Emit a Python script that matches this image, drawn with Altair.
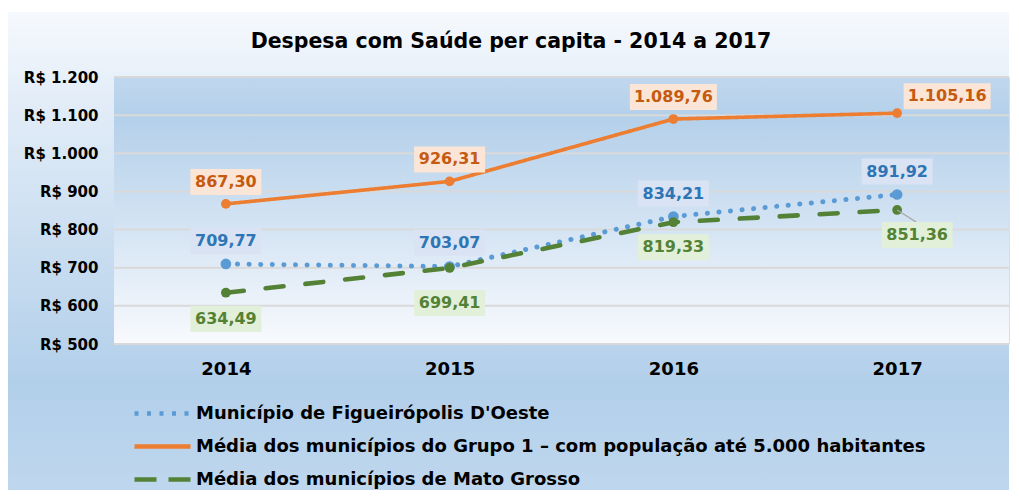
import altair as alt
import pandas as pd

years = [2014, 2015, 2016, 2017]
series_names = [
    "Município de Figueirópolis D'Oeste",
    "Média dos municípios do Grupo 1 – com população até 5.000 habitantes",
    "Média dos municípios de Mato Grosso",
]
figueiropolis = [709.77, 703.07, 834.21, 891.92]
grupo1 = [867.30, 926.31, 1089.76, 1105.16]
mato_grosso = [634.49, 699.41, 819.33, 851.36]
y_ticks = [500, 600, 700, 800, 900, 1000, 1100, 1200]
title_text = "Despesa com Saúde per capita - 2014 a 2017"

line_colors = ["#5b9bd5", "#ed7d31", "#538135"]
text_colors = ["#2e75b6", "#c55a11", "#548235"]
box_colors = ["#dae3f3", "#fbe5d6", "#e2f0d9"]
dashes = [[0.1, 11.5], [1, 0], [18, 22]]
legend_dashes = [[4, 8.5], [1, 0], [22, 12]]
line_widths = [5, 3.6, 4.6]
point_sizes = [115, 95, 95]
FONT = "DejaVu Sans"


def br(v):
    s = f"{v:,.2f}"
    return s.replace(",", "X").replace(".", ",").replace("X", ".")


rows = []
for name, vals in zip(series_names, [figueiropolis, grupo1, mato_grosso]):
    for yr, v in zip(years, vals):
        rows.append({"year": yr, "series": name, "value": v, "label": br(v)})
df = pd.DataFrame(rows)

# label placement offsets (px) per (series index, year)
placement = {
    (0, 2014): (0, -23), (0, 2015): (0, -24), (0, 2016): (0, -23), (0, 2017): (0, -23),
    (1, 2014): (0, -22), (1, 2015): (0, -22), (1, 2016): (0, -22), (1, 2017): (50, -17),
    (2, 2014): (0, 26), (2, 2015): (0, 35), (2, 2016): (0, 25), (2, 2017): (20, 25),
}

x_enc = alt.X(
    "year:Q",
    scale=alt.Scale(domain=[2013.5, 2017.5], nice=False, zero=False),
    axis=alt.Axis(values=years, format="d", title=None, ticks=False, domain=False,
                  grid=False, labelFont=FONT, labelFontSize=18, labelFontWeight="bold",
                  labelColor="black", labelPadding=16, zindex=1),
)
y_enc = alt.Y(
    "value:Q",
    scale=alt.Scale(domain=[500, 1200], nice=False, zero=False),
    axis=alt.Axis(values=y_ticks, title=None, ticks=False, domain=False, grid=False,
                  labelExpr="'R$ ' + replace(format(datum.value, ','), ',', '.')",
                  labelFont=FONT, labelFontSize=15, labelFontWeight="bold",
                  labelColor="black", labelPadding=16, zindex=1),
)

one = pd.DataFrame({"k": [0]})

outer_grad = alt.LinearGradient(
    gradient="linear", x1=0, x2=0, y1=0, y2=1,
    stops=[
        alt.GradientStop(color="#f6f9fd", offset=0),
        alt.GradientStop(color="#e3edf8", offset=0.18),
        alt.GradientStop(color="#c9ddf0", offset=0.5),
        alt.GradientStop(color="#b2cfea", offset=0.78),
        alt.GradientStop(color="#bfd7ee", offset=1),
    ],
)
plot_grad = alt.LinearGradient(
    gradient="linear", x1=0, x2=0, y1=0, y2=1,
    stops=[
        alt.GradientStop(color="#c0d7ee", offset=0),
        alt.GradientStop(color="#b4d0ea", offset=0.15),
        alt.GradientStop(color="#d3e3f3", offset=0.55),
        alt.GradientStop(color="#e8f0f9", offset=0.8),
        alt.GradientStop(color="#f8fafd", offset=1),
    ],
)

outer_bg = alt.Chart(one).mark_rect(fill=outer_grad).encode(
    x=alt.value(-106), x2=alt.value(895), y=alt.value(-65), y2=alt.value(413)
)
plot_bg = alt.Chart(one).mark_rect(fill=plot_grad).encode(
    x=alt.value(0), x2=alt.value("width"), y=alt.value(0), y2=alt.value("height")
)
grid = alt.Chart(pd.DataFrame({"value": y_ticks})).mark_rule(color="#d9d9d9", strokeWidth=2).encode(
    y=y_enc, x=alt.value(0), x2=alt.value("width")
)
title_mark = alt.Chart(one).mark_text(
    text=title_text, font=FONT, fontSize=20.5, fontWeight="bold", color="black",
    align="center", baseline="alphabetic",
).encode(x=alt.value(397), y=alt.value(-29))

# empty layer that only carries the legend (entries come from the scale domain)
legend_layer = alt.Chart(df).transform_filter("false").mark_line(strokeWidth=4.5).encode(
    x=x_enc, y=y_enc,
    color=alt.Color("series:N", scale=alt.Scale(domain=series_names, range=line_colors), title=None),
    strokeDash=alt.StrokeDash("series:N", scale=alt.Scale(domain=series_names, range=legend_dashes), title=None),
)

layers = [outer_bg, plot_bg, grid, title_mark, legend_layer]
for i, name in enumerate(series_names):
    sub = df[df.series == name]
    layers.append(
        alt.Chart(sub).mark_line(strokeWidth=line_widths[i], strokeCap="round",
                                 color=line_colors[i], strokeDash=dashes[i]).encode(x=x_enc, y=y_enc)
    )
    layers.append(
        alt.Chart(sub).mark_point(filled=True, opacity=1, size=point_sizes[i],
                                  color=line_colors[i]).encode(x=x_enc, y=y_enc)
    )

# leader line for the last green label
g17 = df[(df.series == series_names[2]) & (df.year == 2017)]
layers.append(
    alt.Chart(g17).mark_rule(color="#a5a5a5", strokeWidth=1.3, x2Offset=19, y2Offset=12).encode(
        x=x_enc, x2=alt.X2("year"), y=y_enc, y2=alt.Y2("value")
    )
)

BOX_H = 26
for (si, yr), (dx, dy) in placement.items():
    sub = df[(df.series == series_names[si]) & (df.year == yr)]
    lab = sub["label"].iloc[0]
    w = 8 * len(lab) + 23
    layers.append(
        alt.Chart(sub).mark_rect(
            fill=box_colors[si],
            xOffset=dx - w / 2, x2Offset=dx + w / 2,
            yOffset=dy - BOX_H / 2, y2Offset=dy + BOX_H / 2,
        ).encode(x=x_enc, x2=alt.X2("year"), y=y_enc, y2=alt.Y2("value"))
    )
    layers.append(
        alt.Chart(sub).mark_text(
            dx=dx, dy=dy, font=FONT, fontSize=16, fontWeight="bold",
            color=text_colors[si], align="center", baseline="middle",
        ).encode(x=x_enc, y=y_enc, text="label:N")
    )

chart = alt.layer(*layers).properties(
    width=895,
    height=267,
    padding={"left": 106, "top": 69, "right": 2, "bottom": 146},
    autosize=alt.AutoSizeParams(type="none"),
).configure_view(stroke=None).configure(background="white").configure_legend(
    orient="none", legendX=18, legendY=320, direction="vertical",
    symbolType="M-1,0H3", symbolSize=784, symbolStrokeWidth=4.5,
    labelFont=FONT, labelFontSize=18, labelFontWeight="bold", labelColor="black",
    labelLimit=900, labelOffset=31, rowPadding=7, padding=0,
)

chart.save("out.html", embed_options={"renderer": "svg", "actions": False})
